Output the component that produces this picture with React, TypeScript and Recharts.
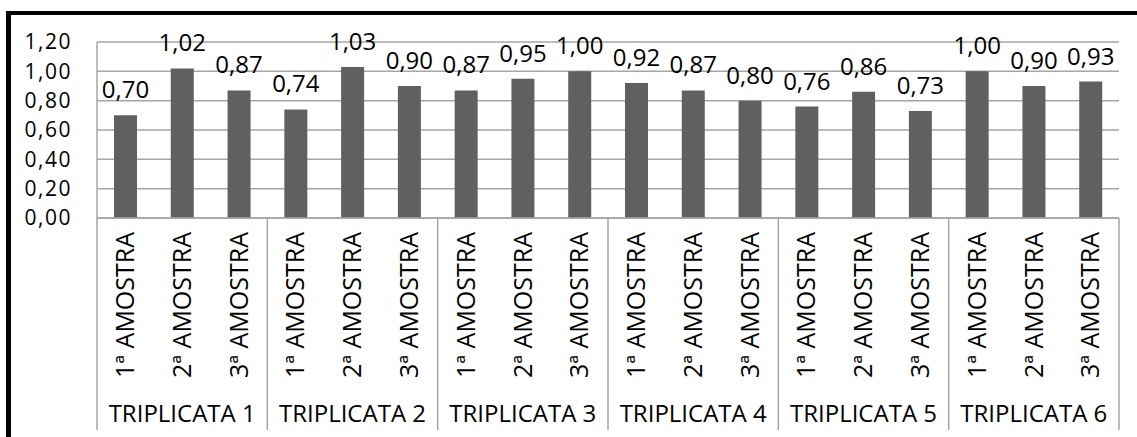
import React from "react";
import { BarChart, Bar, XAxis, YAxis, CartesianGrid, LabelList } from "recharts";

const GROUPS = ["TRIPLICATA 1", "TRIPLICATA 2", "TRIPLICATA 3", "TRIPLICATA 4", "TRIPLICATA 5", "TRIPLICATA 6"];
const SAMPLES = ["1ª AMOSTRA", "2ª AMOSTRA", "3ª AMOSTRA"];
const VALUES = [0.7, 1.02, 0.87, 0.74, 1.03, 0.9, 0.87, 0.95, 1.0, 0.92, 0.87, 0.8, 0.76, 0.86, 0.73, 1.0, 0.9, 0.93];
const Y_TICKS = [0, 0.2, 0.4, 0.6, 0.8, 1.0, 1.2];

const W = 1137;
const H = 437;
const M = { top: 42, right: 18, bottom: 7, left: 0 };
const Y_W = 97;
const SUB_H = 162;
const GRP_H = 50;
const GROUP_W = (W - Y_W - M.right) / GROUPS.length;

const FONT = "'Open Sans', sans-serif";
const FS = 24;
const GRID = "#a6a6a6";
const BAR = "#606060";

const data = VALUES.map((v, i) => ({
  key: `${i}`,
  sample: SAMPLES[i % 3],
  group: GROUPS[Math.floor(i / 3)],
  v,
}));

const fmt = (v: number) => Number(v).toFixed(2).replace(".", ",");

function SampleTick(props: any) {
  const { x, y, index } = props;
  const cy = y + 87;
  return (
    <text
      x={x}
      y={cy}
      dy="0.35em"
      transform={`rotate(-90 ${x} ${cy})`}
      textAnchor="middle"
      fontFamily={FONT}
      fontSize={25}
      fill="#000"
    >
      {data[index]?.sample}
    </text>
  );
}

function GroupTick(props: any) {
  const { x, y, index, payload } = props;
  const left = x - GROUP_W / 2;
  const right = x + GROUP_W / 2;
  return (
    <g>
      <line x1={left} x2={left} y1={y - SUB_H} y2={y + GRP_H} stroke={GRID} strokeWidth={1.5} />
      {index === GROUPS.length - 1 && (
        <line x1={right} x2={right} y1={y - SUB_H} y2={y + GRP_H} stroke={GRID} strokeWidth={1.5} />
      )}
      <text x={x} y={y + 42} textAnchor="middle" fontFamily={FONT} fontSize={FS} fill="#000">
        {payload.value}
      </text>
    </g>
  );
}

export default function App() {
  return (
    <div style={{ position: "absolute", left: 0, top: 0, width: W, height: H, background: "#fff" }}>
      <div
        style={{
          position: "absolute",
          left: 6,
          top: 11,
          width: W - 6,
          height: H - 11,
          borderLeft: "5px solid #000",
          borderTop: "4px solid #000",
          boxSizing: "border-box",
        }}
      />
      <div style={{ position: "absolute", left: 0, top: 0 }}>
        <BarChart width={W} height={H} data={data} margin={M} barSize={23}>
          <CartesianGrid vertical={false} stroke={GRID} strokeWidth={1.5} />
          <YAxis
            width={Y_W}
            domain={[0, 1.2]}
            ticks={Y_TICKS}
            interval={0}
            tickFormatter={fmt}
            tickSize={0}
            tickMargin={25}
            tickLine={false}
            axisLine={{ stroke: GRID, strokeWidth: 1.5 }}
            tick={{ fontFamily: FONT, fontSize: 21, fill: "#000", letterSpacing: 1.5 }}
          />
          <XAxis
            dataKey="key"
            height={SUB_H}
            interval={0}
            tickSize={0}
            tickMargin={0}
            tickLine={false}
            axisLine={{ stroke: GRID, strokeWidth: 1.5 }}
            tick={<SampleTick />}
          />
          <XAxis
            xAxisId="grp"
            dataKey="group"
            allowDuplicatedCategory={false}
            height={GRP_H}
            interval={0}
            tickSize={0}
            tickMargin={0}
            tickLine={false}
            axisLine={false}
            tick={<GroupTick />}
          />
          <Bar dataKey="v" fill={BAR} isAnimationActive={false}>
            <LabelList
              dataKey="v"
              position="top"
              offset={17}
              formatter={(v: any) => fmt(v)}
              style={{ fontFamily: FONT, fontSize: FS, fill: "#000" }}
            />
          </Bar>
        </BarChart>
      </div>
    </div>
  );
}
